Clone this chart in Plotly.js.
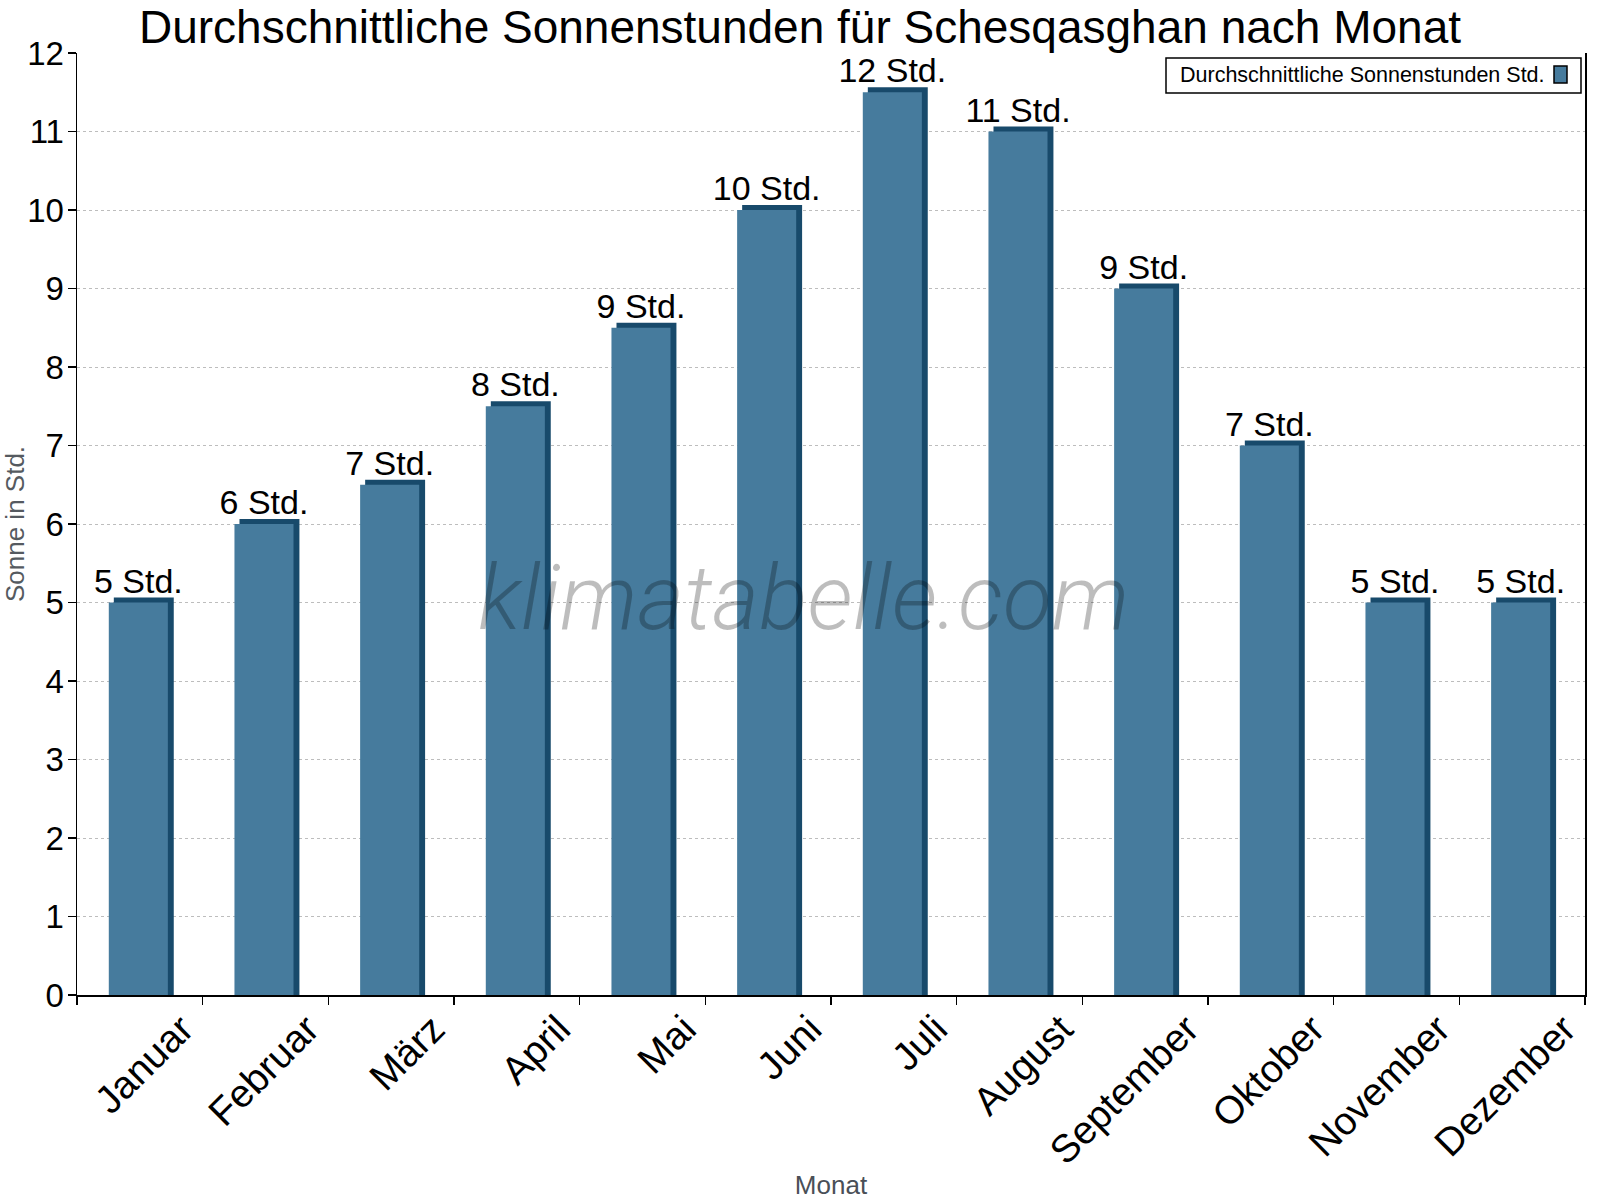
<!DOCTYPE html>
<html>
<head>
<meta charset="utf-8">
<script src="https://cdn.plot.ly/plotly-3.0.1.min.js"></script>
<style>html,body{margin:0;padding:0;background:#fff;}#chart{width:1600px;height:1200px;}</style>
</head>
<body>
<div id="chart"></div>
<script>
const months = ["Januar","Februar","März","April","Mai","Juni","Juli","August","September","Oktober","November","Dezember"];
const sunHours = [5, 6, 6.5, 7.5, 8.5, 10, 11.5, 11, 9, 7, 5, 5];
const sunLabels = ["5 Std.","6 Std.","7 Std.","8 Std.","9 Std.","10 Std.","12 Std.","11 Std.","9 Std.","7 Std.","5 Std.","5 Std."];
const seriesName = "Durchschnittliche Sonnenstunden Std.";

const FONT = "Liberation Sans, Arial, sans-serif";
const FRONT = "#467b9d";
const DARK = "#184a6b";
const depth = 0.064;

// plot area in px
const L = 77, R = 1585, T = 53, B = 995;
const px2x = p => (p - L) / (R - L);
const px2y = p => (B - p) / (B - T);

const sideTrace = {
  type: "bar", x: months, y: sunHours.map(v => v + depth),
  width: 0.477, offset: -0.207,
  marker: {color: DARK, line: {width: 0}},
  hoverinfo: "skip", showlegend: false
};
const frontTrace = {
  type: "bar", x: months, y: sunHours, name: seriesName,
  width: 0.47, offset: -0.247,
  marker: {color: FRONT, line: {width: 0}},
  text: sunLabels, textposition: "outside", constraintext: "none", cliponaxis: false,
  textfont: {family: FONT, size: 34, color: "#000"},
  hoverinfo: "skip", showlegend: false
};

const layout = {
  width: 1600, height: 1200,
  margin: {l: L, r: 1600 - R, t: T, b: 1200 - B, autoexpand: false},
  paper_bgcolor: "#fff", plot_bgcolor: "#fff",
  barmode: "overlay",
  showlegend: false,
  font: {family: FONT, color: "#000"},
  title: {text: "Durchschnittliche Sonnenstunden für Schesqasghan nach Monat",
    font: {family: FONT, size: 46, color: "#000"},
    x: 0.5, xanchor: "center", y: 0.991, yanchor: "top", yref: "container"},
  xaxis: {
    type: "category", range: [-0.5, 11.5], tickson: "boundaries",
    ticks: "outside", ticklen: 8, tickcolor: "#000", tickwidth: 1.5,
    showline: true, linecolor: "#000", linewidth: 1.5,
    showgrid: false, tickangle: -45,
    tickfont: {family: FONT, size: 39, color: "#000"},
    ticklabelshift: 42, ticklabelstandoff: -6,
    automargin: false,
    title: {text: "Monat", font: {family: FONT, size: 26, color: "#4a4f57"}, standoff: 10}
  },
  yaxis: {
    range: [0, 12], dtick: 1, tick0: 0,
    ticks: "outside", ticklen: 8, tickcolor: "#000", tickwidth: 1.5,
    showline: true, mirror: true, linecolor: "#000", linewidth: 1.5,
    showgrid: true, gridcolor: "#bdbdbd", griddash: "dot", gridwidth: 1,
    zeroline: false,
    tickfont: {family: FONT, size: 33, color: "#000"},
    ticklabelstandoff: -3,
    automargin: false,
    title: {text: "Sonne in Std.", font: {family: FONT, size: 26, color: "#555a60"}, standoff: 6}
  },
  annotations: [
    {text: "klimatabelle.com", xref: "paper", yref: "paper",
     x: px2x(803), y: px2y(598), xanchor: "center", yanchor: "middle",
     showarrow: false,
     font: {family: "Roboto, Lato, sans-serif", size: 90, color: "rgba(0,0,0,0.26)", style: "italic", weight: 300}},
    {text: seriesName, xref: "paper", yref: "paper",
     x: px2x(1178), y: px2y(75), xanchor: "left", yanchor: "middle",
     showarrow: false,
     font: {family: FONT, size: 21.5, color: "#000"}}
  ],
  shapes: [
    {type: "rect", xref: "paper", yref: "paper",
     x0: px2x(1166), x1: px2x(1581), y0: px2y(93), y1: px2y(58),
     fillcolor: "rgba(255,255,255,0)", line: {color: "#000", width: 1.5}, layer: "above"},
    {type: "rect", xref: "paper", yref: "paper",
     x0: px2x(1554), x1: px2x(1567), y0: px2y(83), y1: px2y(66),
     fillcolor: FRONT, line: {color: "#000", width: 1.5}, layer: "above"}
  ]
};

Plotly.newPlot("chart", [sideTrace, frontTrace], layout, {displayModeBar: false, staticPlot: true});
</script>
</body>
</html>
